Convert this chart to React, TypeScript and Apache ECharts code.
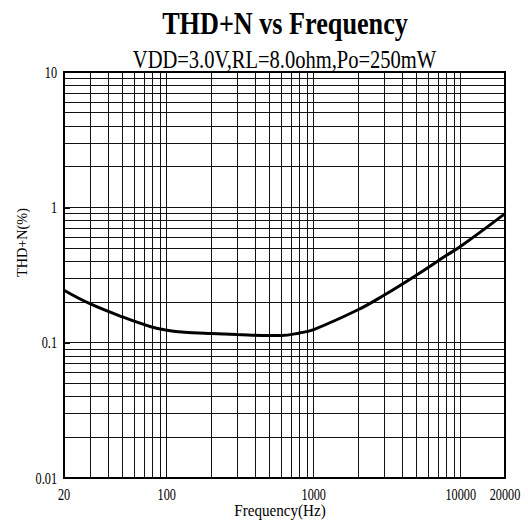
import React, { useEffect, useRef } from "react";
import * as echarts from "echarts";

const freqHz = [20, 30, 50, 80, 100, 120, 150, 200, 300, 500, 600, 800, 1000, 2000, 3000, 5000, 8000, 10000, 20000];
const thdPct = [0.244, 0.194, 0.155, 0.13, 0.1235, 0.1205, 0.1185, 0.117, 0.115, 0.113, 0.113, 0.118, 0.125, 0.175, 0.224, 0.316, 0.442, 0.515, 0.898];

const xGridLines = [30, 40, 50, 60, 70, 80, 90, 100, 200, 300, 400, 500, 600, 700, 800, 900, 1000, 2000, 3000, 4000, 5000, 6000, 7000, 8000, 9000, 10000];
const yGridLines = [0.02, 0.03, 0.04, 0.05, 0.06, 0.07, 0.08, 0.09, 0.1, 0.2, 0.3, 0.4, 0.5, 0.6, 0.7, 0.8, 0.9, 1, 2, 3, 4, 5, 6, 7, 8, 9];

const xTickValues = [20, 100, 1000, 10000, 20000];
const xTickLabels = ["20", "100", "1000", "10000", "20000"];
const yTickValues = [0.01, 0.1, 1, 10];
const yTickLabels = ["0.01", "0.1", "1", "10"];

const titleText = "THD+N vs Frequency";
const subtitleText = "VDD=3.0V,RL=8.0ohm,Po=250mW";
const xName = "Frequency(Hz)";
const yName = "THD+N(%)";

const SERIF = '"Liberation Serif", "Times New Roman", serif';

export default function App() {
  const ref = useRef<HTMLDivElement>(null);

  useEffect(() => {
    if (!ref.current) return;
    const chart = echarts.init(ref.current, undefined, { renderer: "svg" });
    const points = freqHz.map((f, i) => [f, thdPct[i]]);

    chart.setOption({
      animation: false,
      grid: {
        left: 64,
        top: 72,
        right: 23,
        bottom: 43,
        show: true,
        borderColor: "#000",
        borderWidth: 2,
        backgroundColor: "#fff",
      },
      xAxis: {
        type: "log",
        logBase: 10,
        min: 20,
        max: 20000,
        axisLine: { show: false },
        axisTick: { show: false },
        axisLabel: { show: false },
        splitLine: { show: false },
      },
      yAxis: {
        type: "log",
        logBase: 10,
        min: 0.01,
        max: 10,
        axisLine: { show: false },
        axisTick: { show: true, inside: true, length: 6, lineStyle: { color: "#000", width: 2 } },
        axisLabel: { show: false },
        splitLine: { show: false },
      },
      series: [
        {
          type: "line",
          z: 1,
          data: points,
          symbol: "none",
          lineStyle: { opacity: 0 },
          silent: true,
          markLine: {
            silent: true,
            symbol: ["none", "none"],
            label: { show: false },
            lineStyle: { color: "#111", width: 1, type: "solid" },
            emphasis: { disabled: true },
            data: [
              ...xGridLines.map((v) => ({ xAxis: v })),
              ...yGridLines.map((v) => ({ yAxis: v })),
            ],
          },
        },
        {
          type: "line",
          z: 5,
          data: points,
          symbol: "none",
          smooth: 0.4,
          lineStyle: { color: "#000", width: 3 },
          silent: true,
        },
      ],
    });

    const txt = (
      text: string,
      x: number,
      y: number,
      font: string,
      align: string,
      scaleX: number,
      rotation = 0
    ) => ({
      type: "text",
      x,
      y,
      scaleX,
      rotation,
      silent: true,
      z: 10,
      style: {
        text,
        font,
        fill: "#000",
        textAlign: align,
        textVerticalAlign: "middle",
      },
    });

    const elements: any[] = [];
    elements.push(txt(titleText, 285, 23, `bold 31px ${SERIF}`, "center", 0.845));
    elements.push(txt(subtitleText, 284.5, 59.5, `26px ${SERIF}`, "center", 0.79));
    elements.push(txt(xName, 280, 510, `17px ${SERIF}`, "center", 0.89));
    elements.push(txt(yName, 21.5, 242.5, `15px ${SERIF}`, "center", 0.95, Math.PI / 2));

    xTickValues.forEach((v, i) => {
      const px = chart.convertToPixel({ xAxisIndex: 0 }, v) as number;
      elements.push(txt(xTickLabels[i], px, 494, `17px ${SERIF}`, "center", 0.72));
    });
    yTickValues.forEach((v, i) => {
      const py = chart.convertToPixel({ yAxisIndex: 0 }, v) as number;
      elements.push(txt(yTickLabels[i], 57, py, `17px ${SERIF}`, "right", 0.72));
    });

    chart.setOption({ graphic: { elements } });

    return () => {
      chart.dispose();
    };
  }, []);

  return (
    <div
      ref={ref}
      style={{ position: "fixed", left: 0, top: 0, width: 528, height: 521, background: "#fff" }}
    />
  );
}
